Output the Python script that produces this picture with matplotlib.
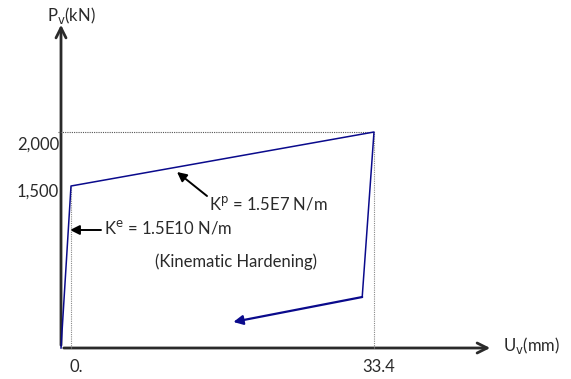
import matplotlib.pyplot as plt
from matplotlib.patches import FancyArrowPatch

# ---------- Data (schematic force-displacement loop) ----------
u_path = [-1.1, 0.0, 33.4, 32.1]          # mm
p_path = [0.0, 1500.0, 2000.0, 472.0]      # kN
u_unload_tip = 17.9
p_unload_tip = 241.0

x_ticks = [0.0, 33.4]
x_tick_labels = ["0.", "33.4"]
y_ticks = [1500.0, 2000.0]
y_tick_labels = ["1,500", "2,000"]

# ---------- Figure ----------
W, H = 571, 379
fig = plt.figure(figsize=(W / 100, H / 100), dpi=100)
ax = fig.add_axes([0, 0, 1, 1])
ax.axis("off")

# pixel <-> data mapping
X0_PX, XS = 71.0, (374.0 - 71.0) / 33.4     # px per mm
Y0_PX, YS = 348.0, (348.0 - 132.0) / 2000.0  # px per kN
ax.set_xlim(-X0_PX / XS, (W - X0_PX) / XS)
ax.set_ylim(-(H - Y0_PX) / YS, Y0_PX / YS)


def px(x, y):
    """pixel (from top-left) -> data coords"""
    return (x - X0_PX) / XS, (Y0_PX - y) / YS


FONT = "Lato"
FS = 12
TXT = "#2a2a2a"
NAVY = "#0A0A8C"
AX_C = "#2a2a2a"
TKW = dict(fontsize=FS, family=FONT, color=TXT, va="center")

# ---------- Axes arrows ----------
ox, oy = px(61, 348)
ax.add_patch(FancyArrowPatch((ox, oy), px(61, 22), arrowstyle="->",
                             mutation_scale=18, lw=2.0, color=AX_C))
ax.add_patch(FancyArrowPatch((ox, oy), px(493, 348), arrowstyle="->",
                             mutation_scale=18, lw=2.0, color=AX_C))

ax.text(*px(47, 16), r"P$_{\rm v}$(kN)", ha="left", **TKW)
ax.text(*px(503, 346), r"U$_{\rm v}$(mm)", ha="left", **TKW)

# ---------- Guide lines ----------
ax.plot([px(58, 0)[0], x_ticks[1]], [y_ticks[1], y_ticks[1]],
        ls=(0, (1, 1)), lw=0.8, color="#555")
for xt, yt in [(x_ticks[0], y_ticks[0]), (x_ticks[1], y_ticks[1])]:
    ax.plot([xt, xt], [0, yt], ls=(0, (1, 1)), lw=0.8, color="#888")

# ---------- Tick labels (labels sit a little below their level) ----------
for yt, lbl, drop in zip(y_ticks, y_tick_labels, [6, 13]):
    ax.text(px(59, 0)[0], yt - drop / YS, lbl, ha="right", **TKW)
for xt, lbl in zip(x_ticks, x_tick_labels):
    ax.text(xt + 5 / XS, px(0, 367)[1], lbl, ha="center", **TKW)

# ---------- Hysteresis path ----------
ax.plot(u_path, p_path, color=NAVY, lw=1.1)
ax.add_patch(FancyArrowPatch((u_path[-1], p_path[-1]),
                             (u_unload_tip, p_unload_tip),
                             arrowstyle="-|>", mutation_scale=14,
                             lw=1.6, color=NAVY, shrinkA=0, shrinkB=0))

# ---------- Annotations ----------
ax.add_patch(FancyArrowPatch(px(207, 196), px(177, 172), arrowstyle="-|>",
                             mutation_scale=14, lw=1.4, color="black",
                             shrinkA=0, shrinkB=0))
ax.text(*px(209, 204), r"K$^{\rm p}$ = 1.5E7 N/m", ha="left", **TKW)

ax.add_patch(FancyArrowPatch(px(101, 230), px(70, 230), arrowstyle="-|>",
                             mutation_scale=14, lw=1.4, color="black",
                             shrinkA=0, shrinkB=0))
ax.text(*px(104, 227), r"K$^{\rm e}$ = 1.5E10 N/m", ha="left", **TKW)

ax.text(*px(155, 262), "(Kinematic Hardening)", ha="left", **TKW)

fig.savefig("out.png", dpi=100)
